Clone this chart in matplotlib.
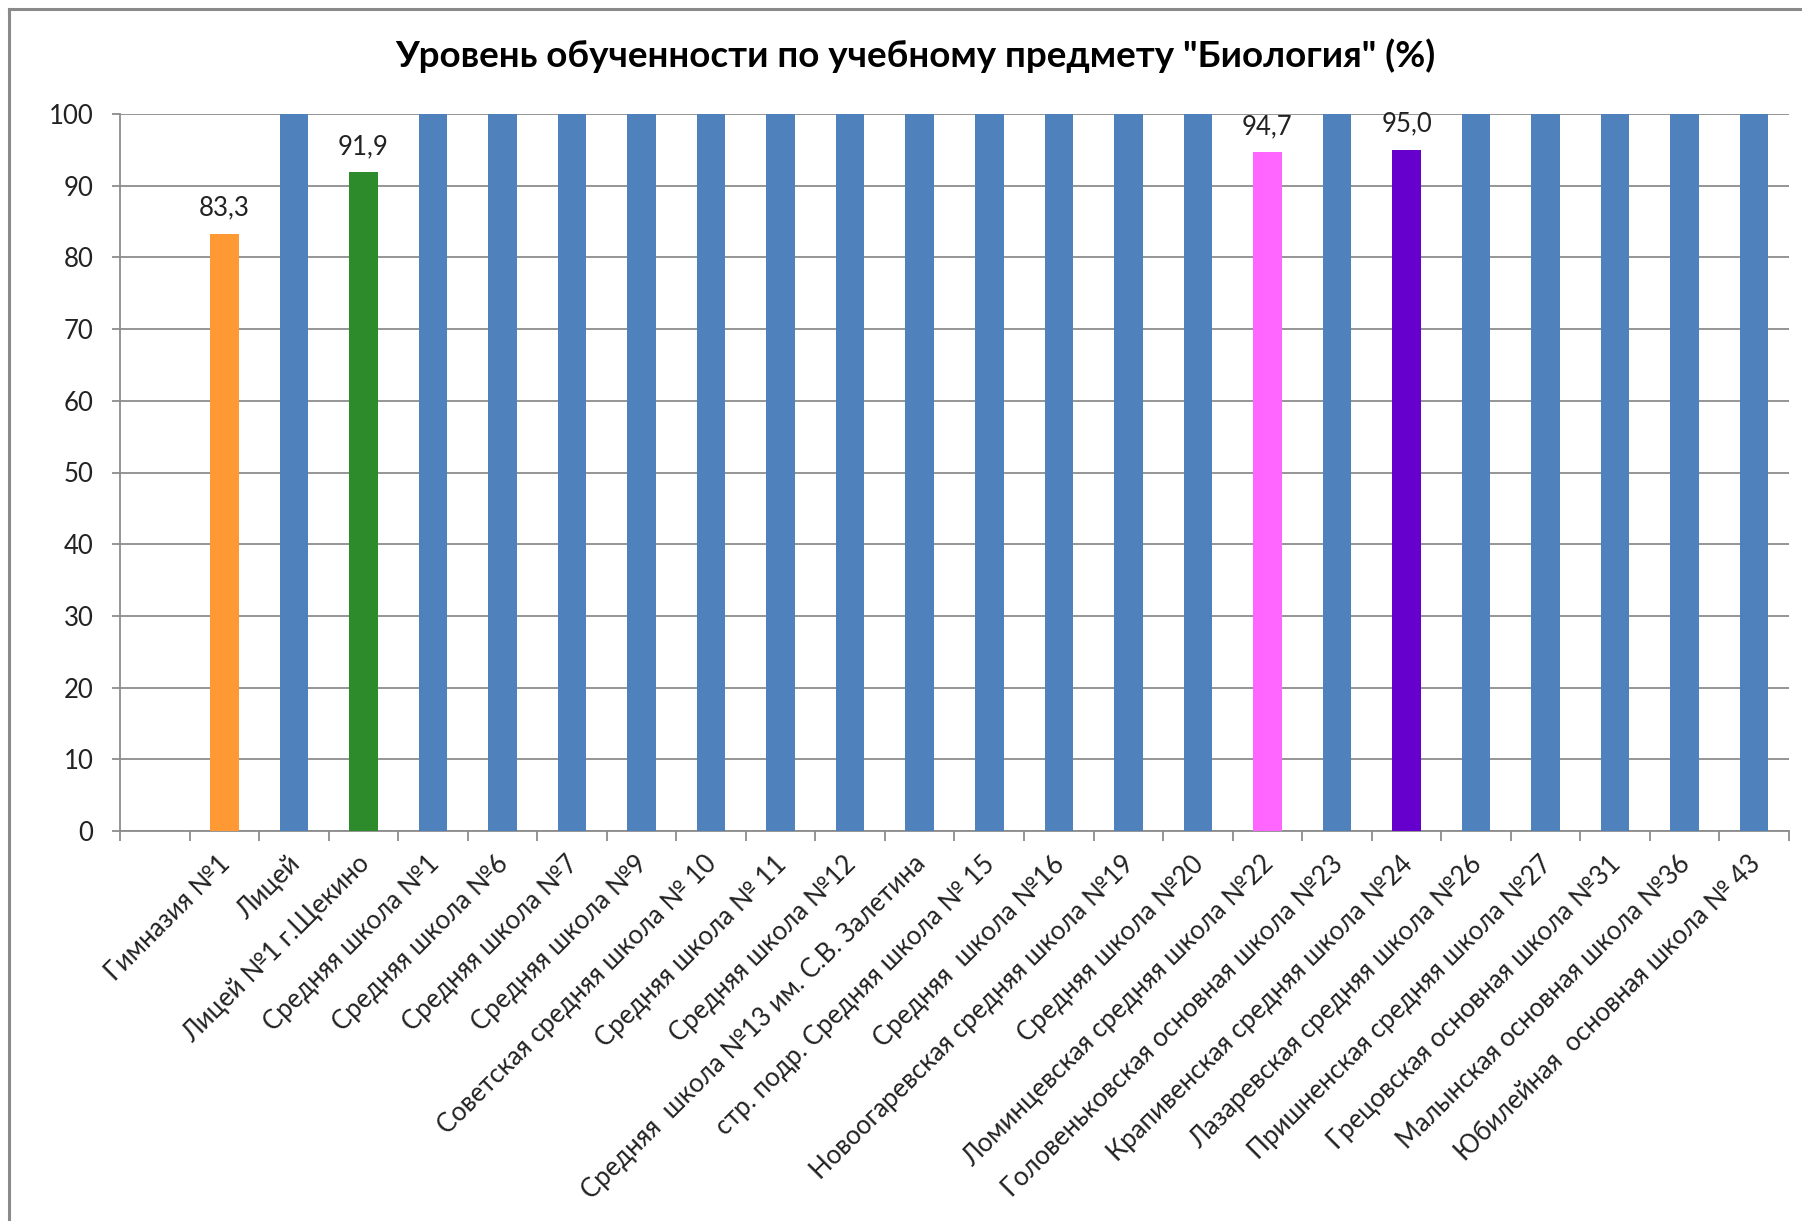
import numpy as np
import matplotlib
matplotlib.use("Agg")
import matplotlib.pyplot as plt
from matplotlib import font_manager
from matplotlib.lines import Line2D
import matplotlib.transforms as mtransforms

# ---------------- data ----------------
title = 'Уровень обученности по учебному предмету "Биология" (%)'
categories = [
    "Гимназия №1",
    "Лицей",
    "Лицей №1 г.Щекино",
    "Средняя школа №1",
    "Средняя школа №6",
    "Средняя школа №7",
    "Средняя школа №9",
    "Советская средняя школа № 10",
    "Средняя школа № 11",
    "Средняя школа №12",
    "Средняя  школа №13 им. С.В. Залетина",
    "стр. подр. Средняя школа № 15",
    "Средняя  школа №16",
    "Новоогаревская средняя школа №19",
    "Средняя школа №20",
    "Ломинцевская средняя школа №22",
    "Головеньковская основная школа №23",
    "Крапивенская средняя школа №24",
    "Лазаревская средняя школа №26",
    "Пришненская средняя школа №27",
    "Грецовская основная школа №31",
    "Малынская основная школа №36",
    "Юбилейная  основная школа № 43",
]
values = [83.3, 100, 91.9, 100, 100, 100, 100, 100, 100, 100, 100, 100,
          100, 100, 100, 94.7, 100, 95.0, 100, 100, 100, 100, 100]
labelled = [0, 2, 15, 17]  # bars carrying data labels
yticks = [0, 10, 20, 30, 40, 50, 60, 70, 80, 90, 100]

# ---------------- style ----------------
base_color = "#4F81BD"
special_colors = {0: "#FF9933", 2: "#2E8B2B", 15: "#FF66FF", 17: "#6600CC"}
colors = [special_colors.get(i, base_color) for i in range(len(values))]


def has_cyrillic(name):
    try:
        from fontTools.ttLib import TTFont
        path = font_manager.findfont(name, fallback_to_default=False)
        f = TTFont(path, fontNumber=0)
        return ord("Г") in f.getBestCmap()
    except Exception:
        return False


family = "Lato" if has_cyrillic("Lato") else "Roboto"
plt.rcParams["font.family"] = [family, "DejaVu Sans"]

FS = 18.5
W, H, DPI = 1802, 1221, 100
fig = plt.figure(figsize=(W / DPI, H / DPI), dpi=DPI)
fig.patch.set_facecolor("white")

# axes placement (pixels)
left, right, top, bottom = 120, 1789, 114, 831
ax = fig.add_axes([left / W, 1 - bottom / H, (right - left) / W, (bottom - top) / H])

x = np.arange(len(categories))
ax.bar(x, values, width=0.41, color=colors, zorder=3)

ax.set_xlim(-1.5, len(categories) - 0.5)
ax.set_ylim(0, 100)
ax.set_yticks(yticks)
ax.set_yticklabels([str(v) for v in yticks], fontsize=FS, color="#222222")
ax.yaxis.grid(True, color="#8c8c8c", linewidth=1.3, zorder=0)
ax.tick_params(axis="y", length=6, width=1.3, color="#8c8c8c", pad=13)

# category boundary ticks
ax.set_xticks(np.arange(-1.5, len(categories), 1.0), minor=True)
ax.tick_params(axis="x", which="minor", length=7, width=1.3, color="#8c8c8c")
ax.set_xticks(x)
ax.set_xticklabels(categories, fontsize=FS, color="#222222",
                   rotation=45, ha="right", va="center", rotation_mode="anchor")
ax.tick_params(axis="x", which="major", length=0, pad=21)
offset = mtransforms.ScaledTranslation(2 / DPI, 0, fig.dpi_scale_trans)
for lab in ax.get_xticklabels():
    lab.set_transform(lab.get_transform() + offset)

for s in ["top", "right"]:
    ax.spines[s].set_visible(False)
for s in ["left", "bottom"]:
    ax.spines[s].set_color("#8c8c8c")
    ax.spines[s].set_linewidth(1.3)

for i in labelled:
    ax.annotate(f"{values[i]:.1f}".replace(".", ","), (x[i], values[i]),
                xytext=(0, 13), textcoords="offset points",
                ha="center", va="baseline", fontsize=FS, color="#222222")

fig.text(915 / W, 1 - 56 / H, title, ha="center", va="center",
         fontsize=26.5, fontweight="bold", color="black")

# outer chart frame (left and top edges visible)
fig.add_artist(Line2D([9 / W, 9 / W], [0, 1 - 9 / H], transform=fig.transFigure,
                      color="#8a8a8a", linewidth=2.2))
fig.add_artist(Line2D([9 / W, 1], [1 - 9 / H, 1 - 9 / H], transform=fig.transFigure,
                      color="#8a8a8a", linewidth=2.2))

fig.savefig("out.png", dpi=DPI, facecolor="white")
